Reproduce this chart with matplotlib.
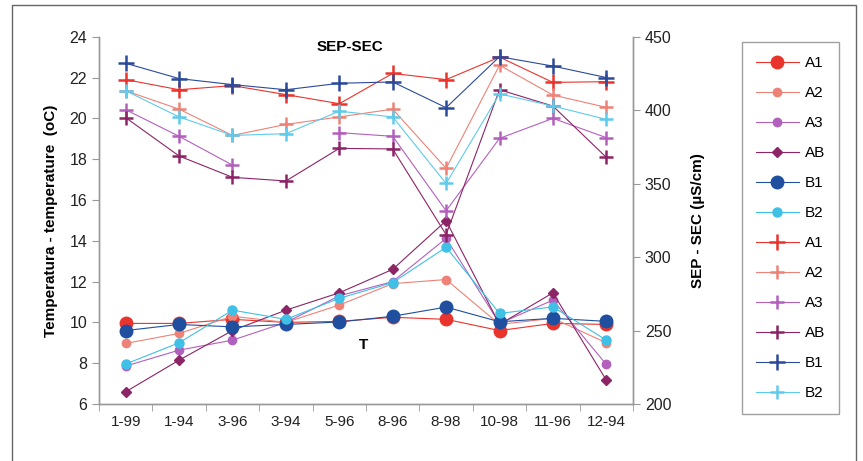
import numpy as np
import matplotlib
matplotlib.use("Agg")
import matplotlib.pyplot as plt
from matplotlib.patches import Rectangle

plt.rcParams['font.family'] = ['Liberation Sans', 'DejaVu Sans']

categories = ["1-99", "1-94", "3-96", "3-94", "5-96", "8-96", "8-98", "10-98", "11-96", "12-94"]
series_names = ["A1", "A2", "A3", "AB", "B1", "B2"]

# Temperature (oC), left axis
temp_A1 = [9.95, 9.95, 10.15, 10.0, 10.05, 10.25, 10.15, 9.6, 9.95, 9.9]
temp_A2 = [8.97, 9.46, 10.3, 10.0, 10.85, 11.9, 12.1, 9.9, 10.2, 9.0]
temp_A3 = [7.86, 8.64, 9.13, 10.0, 11.3, 12.0, 14.12, 9.95, 11.09, 7.94]
temp_AB = [6.6, 8.15, 9.6, 10.6, 11.45, 12.6, 14.98, 9.9, 11.45, 7.17]
temp_B1 = [9.6, 9.9, 9.78, 9.9, 10.02, 10.3, 10.75, 10.03, 10.2, 10.05]
temp_B2 = [7.96, 9.0, 10.6, 10.15, 11.18, 11.95, 13.68, 10.44, 10.76, 9.13]

# Conductivity SEP-SEC (uS/cm), right axis
sec_A1 = [420.8, 413.9, 416.7, 410.6, 404.4, 425.0, 420.8, 436.1, 418.9, 419.4]
sec_A2 = [413.2, 400.7, 382.8, 390.3, 395.4, 400.7, 360.4, 430.6, 410.3, 401.9]
sec_A3 = [400.3, 382.2, 362.6, np.nan, 384.7, 382.2, 331.5, 380.8, 394.4, 381.3]
sec_AB = [394.9, 368.8, 354.3, 351.8, 374.0, 373.6, 315.3, 413.9, 402.8, 367.9]
sec_B1 = [431.9, 421.5, 417.4, 413.9, 418.3, 419.2, 401.7, 436.4, 430.0, 422.2]
sec_B2 = [413.2, 395.4, 382.8, 384.0, 399.3, 395.4, 350.1, 411.1, 402.8, 393.7]

temps = [temp_A1, temp_A2, temp_A3, temp_AB, temp_B1, temp_B2]
secs = [sec_A1, sec_A2, sec_A3, sec_AB, sec_B1, sec_B2]

colors = ["#e8342c", "#ee8277", "#b360bd", "#8c2466", "#1f4f9e", "#3fc0e6"]
plus_colors = ["#e8342c", "#ee8277", "#b360bd", "#8c2466", "#2c4a9a", "#5fcbea"]
t_markers = ["o", "o", "o", "D", "o", "o"]
t_sizes = [9, 6, 6, 5, 9, 6.5]
p_sizes = [11, 10, 10, 10, 11, 10]

fig = plt.figure(figsize=(8.63, 4.61), dpi=100)
fig.patch.set_facecolor("white")
ax = fig.add_axes([0.1147, 0.1236, 0.6188, 0.7968])
ax2 = ax.twinx()

x = np.arange(len(categories))
handles = []
for name, vals, c, m, s in zip(series_names, temps, colors, t_markers, t_sizes):
    h, = ax.plot(x, vals, color=c, marker=m, markersize=s, linewidth=0.8,
                 markeredgecolor=c, label=name, zorder=3)
    handles.append(h)
for name, vals, c, s in zip(series_names, secs, plus_colors, p_sizes):
    h, = ax2.plot(x, vals, color=c, marker="+", markersize=s, markeredgewidth=1.8,
                  linewidth=0.8, label=name)
    handles.append(h)

ax.set_xlim(-0.5, len(categories) - 0.5)
ax.set_ylim(6, 24)
ax.set_yticks(np.arange(6, 25, 2))
ax2.set_ylim(200, 450)
ax2.set_yticks(np.arange(200, 451, 50))

ax.set_xticks(x)
ax.set_xticklabels(categories, fontsize=11)
ax.set_xticks(np.arange(-0.5, len(categories), 1), minor=True)
ax.tick_params(axis="x", which="major", length=0, pad=8, labelcolor="#222222")
ax.tick_params(axis="x", which="minor", length=5, color="#999999", direction="out")
ax.tick_params(axis="y", labelsize=11.5, length=5, color="#999999", direction="out",
               labelcolor="#222222")
ax2.tick_params(axis="y", labelsize=11.5, length=5, color="#999999", direction="out",
                labelcolor="#222222")

for a in (ax, ax2):
    a.spines["top"].set_visible(False)
    for sp in ("left", "right", "bottom"):
        a.spines[sp].set_color("#999999")
        a.spines[sp].set_linewidth(1.0)

ax.set_ylabel("Temperatura - temperature  (oC)", fontsize=11, fontweight="bold", labelpad=8)
ax2.set_ylabel("SEP - SEC (µS/cm)", fontsize=11, fontweight="bold", labelpad=14)

ax.text(4.2, 23.5, "SEP-SEC", fontsize=11, fontweight="bold", ha="center", va="center")
ax.text(4.45, 8.9, "T", fontsize=11, fontweight="bold", ha="center", va="center")

leg = fig.legend(handles=handles, labels=series_names + series_names,
                 loc="upper left", bbox_to_anchor=(0.851, 0.925),
                 fontsize=11, frameon=True, fancybox=False, edgecolor="#888888",
                 labelspacing=1.05, handlelength=2.8, borderpad=0.9, handletextpad=0.4)
leg.get_frame().set_linewidth(1.0)

fig.patches.append(Rectangle((0.0135, -0.02), 0.978, 1.01, transform=fig.transFigure,
                             fill=False, edgecolor="#666666", linewidth=1.0))

fig.savefig("out.png", dpi=100)
